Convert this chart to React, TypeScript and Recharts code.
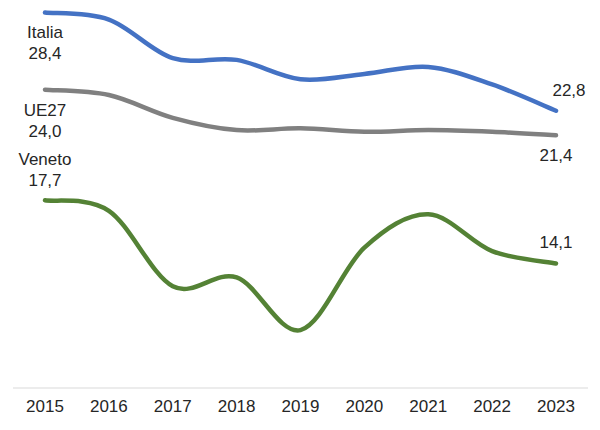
import { Line, LineChart, XAxis, YAxis } from "recharts";

const years = ["2015", "2016", "2017", "2018", "2019", "2020", "2021", "2022", "2023"];
const italia = [28.4, 28.0, 25.8, 25.7, 24.6, 24.9, 25.3, 24.3, 22.8];
const ue27 = [24.0, 23.7, 22.4, 21.7, 21.8, 21.6, 21.7, 21.6, 21.4];
const veneto = [17.7, 17.1, 12.8, 13.3, 10.3, 15.0, 16.9, 14.8, 14.1];

const data = years.map((year, i) => ({
  year,
  italia: italia[i],
  ue27: ue27[i],
  veneto: veneto[i],
}));

const last = years.length - 1;
const fmt = (v: number) => v.toFixed(1).replace(".", ",");
const textStyle = { fontFamily: "'Liberation Sans', Arial, sans-serif", fontSize: 17, fill: "#262626" };

// Excel-like smoothed line (Catmull-Rom as cubic beziers)
function smoothCurve(context: any) {
  let pts: [number, number][] = [];
  return {
    areaStart() {},
    areaEnd() {},
    lineStart() {
      pts = [];
    },
    lineEnd() {
      if (!pts.length) return;
      context.moveTo(pts[0][0], pts[0][1]);
      for (let i = 0; i < pts.length - 1; i++) {
        const p0 = pts[i - 1] || pts[i];
        const p1 = pts[i];
        const p2 = pts[i + 1];
        const p3 = pts[i + 2] || p2;
        context.bezierCurveTo(
          p1[0] + (p2[0] - p0[0]) / 6,
          p1[1] + (p2[1] - p0[1]) / 6,
          p2[0] - (p3[0] - p1[0]) / 6,
          p2[1] - (p3[1] - p1[1]) / 6,
          p2[0],
          p2[1]
        );
      }
    },
    point(x: number, y: number) {
      pts.push([+x, +y]);
    },
  };
}

// start label: name + value stacked; end label: value only
function makeLabel(name: string, start: "above" | "below", end: "above" | "below", endDx = 0) {
  return (props: any) => {
    const { x, y, index, value } = props;
    if (index === 0) {
      const y1 = start === "below" ? y + 20 : y - 41;
      return (
        <g>
          <text x={x} y={y1} dy="0.35em" textAnchor="middle" {...textStyle}>
            {name}
          </text>
          <text x={x} y={y1 + 21} dy="0.35em" textAnchor="middle" {...textStyle}>
            {fmt(value)}
          </text>
        </g>
      );
    }
    if (index === last) {
      const yy = end === "below" ? y + 20 : y - 21;
      return (
        <text x={x + endDx} y={yy} dy="0.35em" textAnchor="middle" {...textStyle}>
          {fmt(value)}
        </text>
      );
    }
    return null;
  };
}

export default function App() {
  return (
    <div style={{ position: "absolute", left: 0, top: 0 }}>
      <LineChart width={600} height={430} data={data} margin={{ top: 2, right: 12, bottom: 12, left: 13 }}>
        <XAxis
          dataKey="year"
          padding={{ left: 32, right: 32 }}
          axisLine={{ stroke: "#d9d9d9", strokeWidth: 1 }}
          tickLine={false}
          tick={textStyle}
          tickMargin={6}
          height={30}
          interval={0}
        />
        <YAxis hide domain={[7, 29]} />
        <Line
          type={smoothCurve as any}
          dataKey="italia"
          stroke="#4472c4"
          strokeWidth={4.5}
          strokeLinecap="round"
          dot={false}
          isAnimationActive={false}
          label={makeLabel("Italia", "below", "above", 13)}
        />
        <Line
          type={smoothCurve as any}
          dataKey="ue27"
          stroke="#808080"
          strokeWidth={4.5}
          strokeLinecap="round"
          dot={false}
          isAnimationActive={false}
          label={makeLabel("UE27", "below", "below")}
        />
        <Line
          type={smoothCurve as any}
          dataKey="veneto"
          stroke="#548235"
          strokeWidth={4.5}
          strokeLinecap="round"
          dot={false}
          isAnimationActive={false}
          label={makeLabel("Veneto", "above", "above")}
        />
      </LineChart>
    </div>
  );
}
